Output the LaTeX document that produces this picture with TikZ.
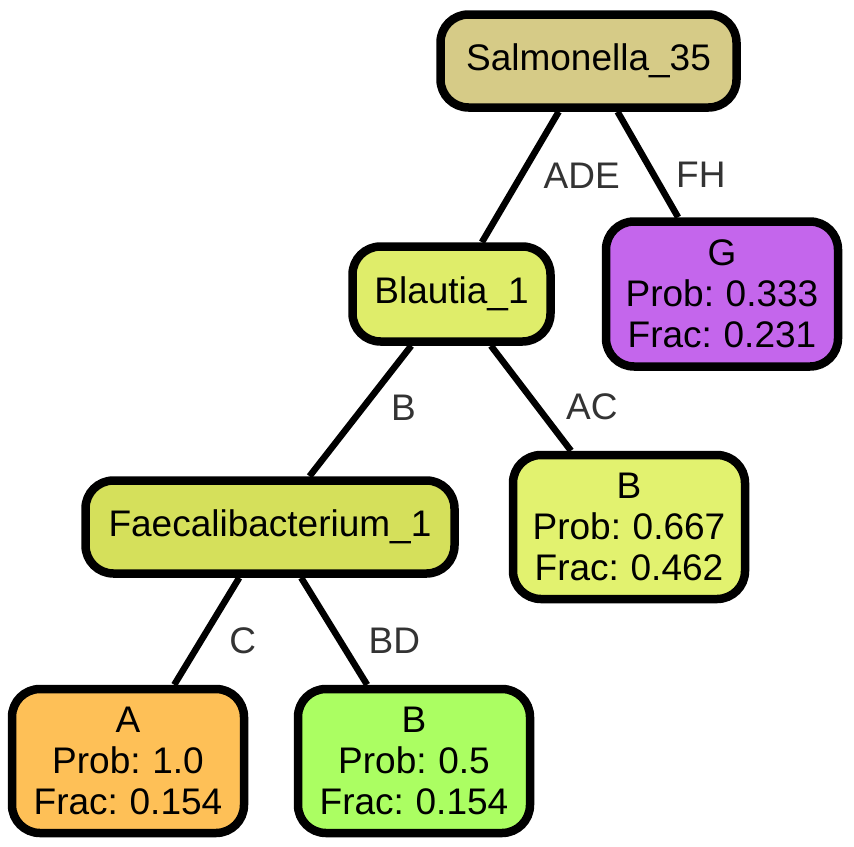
\documentclass[tikz,border=0pt]{standalone}
\usepackage{fontspec}
\setmainfont[WordSpace=0.8]{Liberation Sans}
\usepackage{tikz}
\definecolor{salcol}{HTML}{D6CB87}
\definecolor{blacol}{HTML}{DFED6A}
\definecolor{faecol}{HTML}{D5E05B}
\definecolor{gcol}{HTML}{C466EC}
\definecolor{bhicol}{HTML}{E2F26F}
\definecolor{acol}{HTML}{FEC057}
\definecolor{bmidcol}{HTML}{ABFE62}
\definecolor{labgray}{HTML}{333333}
\tikzstyle{split} = [rectangle, rounded corners=28pt, inner sep=0pt, minimum height=93pt, text centered, draw=black, line width=8.5pt, font=\fontsize{37}{41}\selectfont]
\tikzstyle{leaf} = [split, align=center, minimum width=232pt, minimum height=144pt]
\tikzstyle{edge} = [line width=6.5pt]
\tikzstyle{elabel} = [anchor=west, xshift=22pt, text=labgray, font=\fontsize{37}{41}\selectfont]

\begin{document}
\begin{tikzpicture}[x=1pt, y=-1pt]
  \useasboundingbox (0,0) rectangle (854,846);
  \node (sal35)[split, fill=salcol, minimum width=296pt] at (588.5,61) {Salmonella\_35};
  \node (bla1)[split, fill=blacol, minimum width=198pt, minimum height=95pt] at (451.5,294) {Blautia\_1};
  \node (leafG)[leaf, fill=gcol, minimum height=145pt] at (722,294) {G\\Prob: 0.333\\Frac: 0.231};
  \node (faec1)[split, fill=faecol, minimum width=369pt] at (270,527) {Faecalibacterium\_1};
  \node (leafB1)[leaf, fill=bhicol] at (629,527) {B\\Prob: 0.667\\Frac: 0.462};
  \node (leafA)[leaf, fill=acol] at (128,761) {A\\Prob: 1.0\\Frac: 0.154};
  \node (leafB2)[leaf, fill=bmidcol] at (414,761) {B\\Prob: 0.5\\Frac: 0.154};
  \draw [edge] (sal35) -- node[elabel, pos=0.489, xshift=-6pt]{ADE} (bla1);
  \draw [edge] (sal35) -- node[elabel, pos=0.596, xshift=-6pt]{FH} (leafG);
  \draw [edge] (bla1) -- node[elabel, pos=0.478]{B} (faec1);
  \draw [edge] (bla1) -- node[elabel, pos=0.583]{AC} (leafB1);
  \draw [edge] (faec1) -- node[elabel, pos=0.591]{C} (leafA);
  \draw [edge] (faec1) -- node[elabel, pos=0.591]{BD} (leafB2);
\end{tikzpicture}
\end{document}
